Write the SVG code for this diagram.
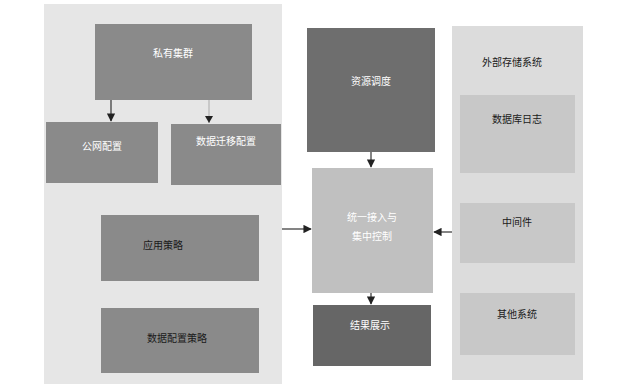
<svg xmlns="http://www.w3.org/2000/svg" width="624" height="386" viewBox="0 0 624 386">
<defs>
<style>
text{font-family:"Noto Sans CJK SC","Liberation Sans",sans-serif;font-size:10px;text-anchor:middle;dominant-baseline:middle}
.w{fill:#ffffff}
.k{fill:#1a1a1a}
.c{stroke:#333;stroke-width:1.2;fill:none}
.c2{stroke:#aaa;stroke-width:1;fill:none}
</style>
<marker id="ah" viewBox="0 0 10 10" refX="9" refY="5" markerWidth="7" markerHeight="7" orient="auto"><path d="M0,0 L10,5 L0,10 z" fill="#222"/></marker>
</defs>
<rect width="624" height="386" fill="#ffffff"/>
<g id="panel-left"><rect x="44" y="4" width="238" height="380" fill="#e6e6e6"/></g>
<g id="panel-right"><rect x="452" y="26" width="131" height="354" fill="#dcdcdc"/><text class="k" x="512" y="63">外部存储系统</text></g>
<g id="n-cluster"><rect x="95" y="24" width="157" height="76" fill="#8a8a8a"/><text class="w" x="173" y="54">私有集群</text></g>
<g id="n-public"><rect x="46" y="122" width="112" height="61" fill="#8a8a8a"/><text class="w" x="102" y="147">公网配置</text></g>
<g id="n-migrate"><rect x="171" y="124" width="110" height="61" fill="#8a8a8a"/><text class="w" x="226" y="142">数据迁移配置</text></g>
<g id="n-app"><rect x="101" y="215" width="158" height="66" fill="#8a8a8a"/><text class="k" x="163" y="246">应用策略</text></g>
<g id="n-dataconf"><rect x="101" y="308" width="158" height="65" fill="#8a8a8a"/><text class="k" x="177" y="339">数据配置策略</text></g>
<g id="n-sched"><rect x="307" y="28" width="128" height="124" fill="#6e6e6e"/><text class="w" x="371" y="82">资源调度</text></g>
<g id="n-core"><rect x="312" y="168" width="121" height="125" fill="#c0c0c0"/><text class="w" x="372" y="218">统一接入与</text><text class="w" x="372" y="237">集中控制</text></g>
<g id="n-result"><rect x="313" y="305" width="118" height="61" fill="#666666"/><text class="w" x="370" y="326">结果展示</text></g>
<g id="n-db"><rect x="460" y="95" width="115" height="78" fill="#c8c8c8"/><text class="k" x="517" y="120">数据库日志</text></g>
<g id="n-mid"><rect x="460" y="203" width="115" height="60" fill="#c8c8c8"/><text class="k" x="517" y="223">中间件</text></g>
<g id="n-other"><rect x="460" y="293" width="115" height="62" fill="#c8c8c8"/><text class="k" x="517" y="315">其他系统</text></g>
<g id="connectors">
<line class="c" x1="111" y1="100" x2="111" y2="121" marker-end="url(#ah)"/>
<line class="c2" x1="209" y1="100" x2="209" y2="123"/>
<path d="M205,116 L213,116 L209,123 z" fill="#222"/>
<line class="c" x1="371" y1="152" x2="371" y2="167" marker-end="url(#ah)"/>
<line class="c" x1="282" y1="229" x2="311" y2="229" marker-end="url(#ah)"/>
<line class="c" x1="452" y1="232" x2="434" y2="232" marker-end="url(#ah)"/>
<line class="c" x1="371" y1="293" x2="371" y2="304" marker-end="url(#ah)"/>
</g>
</svg>
